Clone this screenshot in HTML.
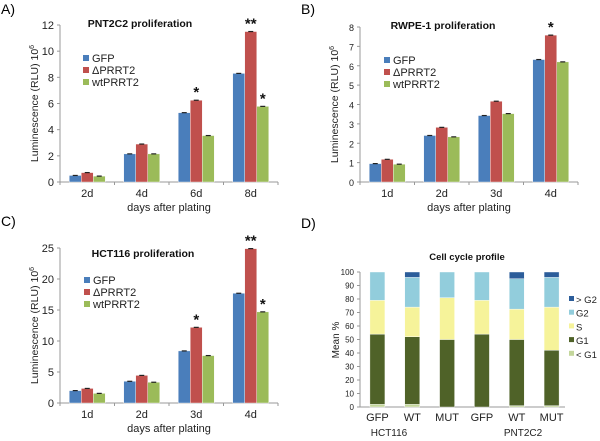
<!DOCTYPE html>
<html><head><meta charset="utf-8"><style>
body{margin:0;background:#fff;}
svg{display:block;font-family:"Liberation Sans",sans-serif;}
</style></head><body>
<svg id="s" width="600" height="441" viewBox="0 0 600 441">
<text x="1" y="14" font-size="14">A)</text>
<text x="301" y="14" font-size="14">B)</text>
<text x="1" y="226" font-size="14">C)</text>
<text x="301" y="228" font-size="14">D)</text>
</svg>
<script>
const series=['GFP','ΔPRRT2','wtPRRT2'];
const colors=['#4a7ebb','#c0504d','#9bbb59'];
const catsA=['2d','4d','6d','8d'];
const gfpA=[0.5,2.15,5.3,8.3];
const delA=[0.72,2.9,6.25,11.5];
const wtA=[0.45,2.15,3.55,5.78];
const starsA=[['','',''],['','',''],['','*',''],['','**','*']];
const catsB=['1d','2d','3d','4d'];
const gfpB=[0.95,2.4,3.43,6.32];
const delB=[1.17,2.82,4.17,7.58];
const wtB=[0.92,2.33,3.53,6.2];
const starsB=[['','',''],['','',''],['','',''],['','*','']];
const catsC=['1d','2d','3d','4d'];
const gfpC=[2.0,3.5,8.4,17.7];
const delC=[2.35,4.45,12.2,24.9];
const wtC=[1.55,3.35,7.65,14.7];
const starsC=[['','',''],['','',''],['','*',''],['','**','*']];
const catsD=['GFP','WT','MUT','GFP','WT','MUT'];
const stackNames=['< G1','G1','S','G2','> G2'];
const stackColors=['#c3d69b','#4f6228','#f6f39a','#92cddc','#2c5d9a'];
const ltG1=[2,2,0,0,1,1];
const g1=[52,50,50,54,49,41];
const sPh=[25,22,31,25,22.5,32];
const g2=[21,22,19,21,22.5,22];
const gtG2=[0,4,0,0,5,4];
const yTicksD=[0,10,20,30,40,50,60,70,80,90,100];

const svg=document.getElementById('s');
const NS='http://www.w3.org/2000/svg';
function mk(tag,attrs,parent){const e=document.createElementNS(NS,tag);for(const k in attrs)e.setAttribute(k,attrs[k]);(parent||svg).appendChild(e);return e;}

function barChart(p){
  const g=mk('g',{});
  
  
  const y=v=>p.y0-(v/p.ymax)*(p.y0-p.ytop);
  const gw=(p.x1-p.x0)/p.cats.length;
  const ax=mk('path',{d:`M${p.x0} ${p.ytop}V${p.y0}H${p.x1}`,stroke:'#999',fill:'none','stroke-width':1},g);
  
  
  for(let v=0;v<=p.ymax;v+=p.step){
    mk('line',{x1:p.x0-3,x2:p.x0,y1:y(v),y2:y(v),stroke:'#999'},g);
    const t=mk('text',{x:p.x0-6,y:y(v)+4,'font-size':p.tickFs,'text-anchor':'end',fill:'#222'},g);
    t.textContent=v;
    
    
  }
  for(let i=0;i<=p.cats.length;i++)mk('line',{x1:p.x0+i*gw,x2:p.x0+i*gw,y1:p.y0,y2:p.y0+3,stroke:'#999'},g);
  const bw=12;
  p.cats.forEach((c,i)=>{
    const cx=p.x0+gw*(i+0.5);
    const t=mk('text',{x:cx,y:p.y0+15,'font-size':11,'text-anchor':'middle',fill:'#222'},g);
    t.textContent=c;
    
    
    p.vals.forEach((arr,s)=>{
      const bx=cx-1.5*bw+s*bw;const v=arr[i];
      const r=mk('rect',{x:bx,y:y(v),width:bw,height:p.y0-y(v),fill:colors[s],stroke:'#fff','stroke-width':0.4},g);
      
      
      mk('line',{x1:bx+bw/2-2.5,x2:bx+bw/2+2.5,y1:y(v),y2:y(v),stroke:'#222','stroke-width':1.2},g);
      const st=p.stars[i][s];
      if(st){const a=mk('text',{x:bx+bw/2,y:y(v)-3,'font-size':15,'text-anchor':'middle','font-weight':'bold',fill:'#111'},g);a.textContent=st;
        
        }
    });
  });
  const ti=mk('text',{x:p.tx,y:p.ty,'font-size':10.5,'font-weight':'bold','text-anchor':'middle',fill:'#111'},g);ti.textContent=p.title;
  
  
  const xl=mk('text',{x:(p.x0+p.x1)/2,y:p.y0+29,'font-size':11,'text-anchor':'middle',fill:'#222'},g);xl.textContent='days after plating';
  
  
  const yc=(p.y0+p.ytop)/2;
  const yl=mk('text',{x:p.x0-22,y:yc,'font-size':10.5,'text-anchor':'middle',fill:'#222',transform:`rotate(-90 ${p.x0-22} ${yc})`},g);
  yl.innerHTML='Luminescence (RLU) 10<tspan font-size="7" dy="-4">6</tspan>';
  
  
  series.forEach((n,s)=>{
    const ly=p.ly+s*12;
    const lr=mk('rect',{x:p.lx,y:ly-4,width:6,height:6,fill:colors[s]},g);
    
    
    const lt=mk('text',{x:p.lx+9,y:ly+3,'font-size':11,fill:'#222'},g);lt.textContent=n;
    
    
  });
}
barChart({name:'chart-pnt2c2',cats:catsA,vals:[gfpA,delA,wtA],stars:starsA,x0:60,x1:278,y0:182,ytop:25,ymax:12,step:2,tickFs:11,title:'PNT2C2 proliferation',tx:140,ty:27,lx:83,ly:59});
barChart({name:'chart-rwpe1',cats:catsB,vals:[gfpB,delB,wtB],stars:starsB,x0:360,x1:578,y0:182,ytop:27,ymax:8,step:1,tickFs:9,title:'RWPE-1 proliferation',tx:443,ty:29,lx:384,ly:61});
barChart({name:'chart-hct116',cats:catsC,vals:[gfpC,delC,wtC],stars:starsC,x0:60,x1:278,y0:403,ytop:248,ymax:25,step:5,tickFs:11,title:'HCT116 proliferation',tx:143,ty:257,lx:84,ly:281});

(function(){
  const g=mk('g',{});
  
  
  const x0=360,x1=569,y0=407,ytop=272;
  const y=v=>y0-v/100*(y0-ytop);
  const gw=(x1-x0)/catsD.length;
  mk('path',{d:`M${x0} ${ytop}V${y0}H${x1-4}`,stroke:'#999',fill:'none'},g);
  yTicksD.forEach(v=>{
    mk('line',{x1:x0-3,x2:x0,y1:y(v),y2:y(v),stroke:'#999'},g);
    const t=mk('text',{x:x0-6,y:y(v)+3,'font-size':8,'text-anchor':'end',fill:'#222'},g);t.textContent=v;
    
    
  });
  const stacks=[ltG1,g1,sPh,g2,gtG2];
  const bw=15;
  catsD.forEach((c,i)=>{
    const cx=x0+gw*(i+0.5);
    let acc=0;
    stacks.forEach((arr,k)=>{
      const v=arr[i];if(v<=0)return;
      const r=mk('rect',{x:cx-bw/2,y:y(acc+v),width:bw,height:y(acc)-y(acc+v),fill:stackColors[k],stroke:'#fff','stroke-width':0.4},g);
      
      
      acc+=v;
    });
    const t=mk('text',{x:cx,y:y0+14,'font-size':11,'text-anchor':'middle',fill:'#222'},g);t.textContent=c;
    
    
  });
  [['HCT116',389],['PNT2C2',523]].forEach(([n,x])=>{
    const t=mk('text',{x:x,y:436,'font-size':10,'text-anchor':'middle',fill:'#222'},g);t.textContent=n;
    
    
  });
  const ti=mk('text',{x:467,y:260,'font-size':9.5,'font-weight':'bold','text-anchor':'middle',fill:'#111'},g);ti.textContent='Cell cycle profile';
  
  
  const yl=mk('text',{x:339,y:340,'font-size':10,'text-anchor':'middle',fill:'#222',transform:'rotate(-90 339 340)'},g);yl.textContent='Mean %';
  
  
  [4,3,2,1,0].forEach((k,j)=>{
    const ly=300+j*13.7;
    const lr=mk('rect',{x:569,y:ly-4,width:5,height:5,fill:stackColors[k]},g);
    
    
    const lt=mk('text',{x:576,y:ly+3,'font-size':9.5,fill:'#222'},g);lt.textContent=stackNames[k];
    
    
  });
})();
</script>
</body></html>
